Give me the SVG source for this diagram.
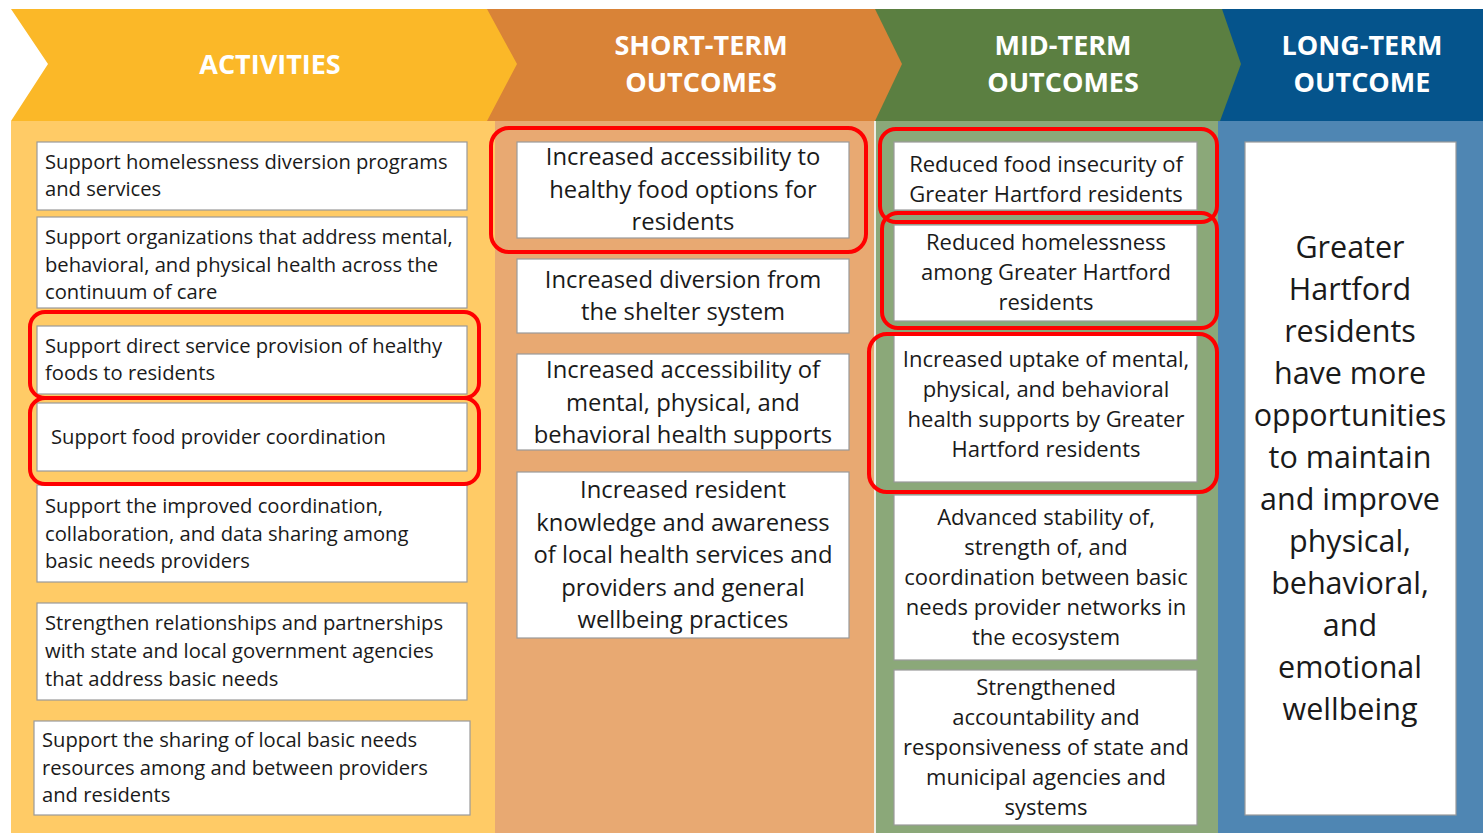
<svg xmlns="http://www.w3.org/2000/svg" width="1483" height="833" viewBox="0 0 1483 833">
<style>
.hd{font-family:"Open Sans","Liberation Sans",sans-serif;font-weight:bold;fill:#fff;font-size:27px;text-anchor:middle}
.box{fill:#fff;stroke:#9a9a9a;stroke-width:1.2}
.hl{fill:none;stroke:#f00;stroke-width:4}
.ta{font-family:"Open Sans","Liberation Sans",sans-serif;font-size:20.2px;fill:#1a1a1a}
.ts{font-family:"Open Sans","Liberation Sans",sans-serif;font-size:23.8px;fill:#1a1a1a;text-anchor:middle}
.tm{font-family:"Open Sans","Liberation Sans",sans-serif;font-size:22px;fill:#1a1a1a;text-anchor:middle}
.tl{font-family:"Open Sans","Liberation Sans",sans-serif;font-size:30.5px;fill:#1a1a1a;text-anchor:middle}
</style>
<rect width="1483" height="833" fill="#fff"/>
<g id="bodies">
<rect x="11" y="121" width="484" height="712" fill="#FFCB66"/>
<rect x="495" y="121" width="379" height="712" fill="#E8A972"/>
<rect x="874" y="121" width="2" height="712" fill="#EDEDE5"/>
<rect x="876" y="121" width="342" height="712" fill="#8BA879"/>
<rect x="1218" y="121" width="265" height="712" fill="#4F86B3"/>
</g>
<g id="headers">
<rect x="1200" y="9" width="283" height="112" fill="#05548C"/>
<polygon points="860,9 1222,9 1241,64 1220,121 860,121" fill="#5B7F41"/>
<polygon points="470,9 875,9 902,64 875,121 470,121" fill="#D98337"/>
<polygon points="11,9 487,9 517,64 487,121 11,121 48,64" fill="#FBB828"/>
<text class="hd" x="270" y="74">ACTIVITIES</text>
<text class="hd" x="701" y="55">SHORT-TERM</text>
<text class="hd" x="701" y="92">OUTCOMES</text>
<text class="hd" x="1063" y="55">MID-TERM</text>
<text class="hd" x="1063" y="92">OUTCOMES</text>
<text class="hd" x="1362" y="55">LONG-TERM</text>
<text class="hd" x="1362" y="92">OUTCOME</text>
</g>
<g id="a1"><rect class="box" x="37" y="142" width="430" height="68"/><text class="ta" x="45" y="169">Support homelessness diversion programs</text><text class="ta" x="45" y="196">and services</text></g>
<g id="a2"><rect class="box" x="37" y="217" width="430" height="91"/><text class="ta" x="45" y="244">Support organizations that address mental,</text><text class="ta" x="45" y="272">behavioral, and physical health across the</text><text class="ta" x="45" y="299">continuum of care</text></g>
<g id="a3"><rect class="box" x="37" y="326" width="430" height="68"/><text class="ta" x="45" y="353">Support direct service provision of healthy</text><text class="ta" x="45" y="380">foods to residents</text></g>
<g id="a4"><rect class="box" x="37" y="403" width="430" height="68"/><text class="ta" x="51" y="444">Support food provider coordination</text></g>
<g id="a5"><rect class="box" x="37" y="485" width="430" height="97"/><text class="ta" x="45" y="513">Support the improved coordination,</text><text class="ta" x="45" y="541">collaboration, and data sharing among</text><text class="ta" x="45" y="568">basic needs providers</text></g>
<g id="a6"><rect class="box" x="37" y="603" width="430" height="97"/><text class="ta" x="45" y="630">Strengthen relationships and partnerships</text><text class="ta" x="45" y="658">with state and local government agencies</text><text class="ta" x="45" y="686">that address basic needs</text></g>
<g id="a7"><rect class="box" x="34" y="721" width="436" height="94"/><text class="ta" x="42" y="747">Support the sharing of local basic needs</text><text class="ta" x="42" y="775">resources among and between providers</text><text class="ta" x="42" y="802">and residents</text></g>
<g id="s1"><rect class="box" x="517" y="142" width="332" height="96"/><text class="ts" x="683" y="165">Increased accessibility to</text><text class="ts" x="683" y="198">healthy food options for</text><text class="ts" x="683" y="230">residents</text></g>
<g id="s2"><rect class="box" x="517" y="259" width="332" height="74"/><text class="ts" x="683" y="288">Increased diversion from</text><text class="ts" x="683" y="320">the shelter system</text></g>
<g id="s3"><rect class="box" x="517" y="354" width="332" height="96"/><text class="ts" x="683" y="378">Increased accessibility of</text><text class="ts" x="683" y="411">mental, physical, and</text><text class="ts" x="683" y="443">behavioral health supports</text></g>
<g id="s4"><rect class="box" x="517" y="472" width="332" height="166"/><text class="ts" x="683" y="498">Increased resident</text><text class="ts" x="683" y="531">knowledge and awareness</text><text class="ts" x="683" y="563">of local health services and</text><text class="ts" x="683" y="596">providers and general</text><text class="ts" x="683" y="628">wellbeing practices</text></g>
<g id="m1"><rect class="box" x="894" y="142" width="303" height="68"/><text class="tm" x="1046" y="172">Reduced food insecurity of</text><text class="tm" x="1046" y="202">Greater Hartford residents</text></g>
<g id="m2"><rect class="box" x="894" y="225" width="303" height="96"/><text class="tm" x="1046" y="250">Reduced homelessness</text><text class="tm" x="1046" y="280">among Greater Hartford</text><text class="tm" x="1046" y="310">residents</text></g>
<g id="m3"><rect class="box" x="894" y="335" width="303" height="147"/><text class="tm" x="1046" y="367">Increased uptake of mental,</text><text class="tm" x="1046" y="397">physical, and behavioral</text><text class="tm" x="1046" y="427">health supports by Greater</text><text class="tm" x="1046" y="457">Hartford residents</text></g>
<g id="m4"><rect class="box" x="894" y="495" width="303" height="165"/><text class="tm" x="1046" y="525">Advanced stability of,</text><text class="tm" x="1046" y="555">strength of, and</text><text class="tm" x="1046" y="585">coordination between basic</text><text class="tm" x="1046" y="615">needs provider networks in</text><text class="tm" x="1046" y="645">the ecosystem</text></g>
<g id="m5"><rect class="box" x="894" y="670" width="303" height="155"/><text class="tm" x="1046" y="695">Strengthened</text><text class="tm" x="1046" y="725">accountability and</text><text class="tm" x="1046" y="755">responsiveness of state and</text><text class="tm" x="1046" y="785">municipal agencies and</text><text class="tm" x="1046" y="815">systems</text></g>
<g id="l1"><rect class="box" x="1245" y="142" width="211" height="673"/>
<text class="tl" x="1350" y="258">Greater</text><text class="tl" x="1350" y="300">Hartford</text><text class="tl" x="1350" y="342">residents</text><text class="tl" x="1350" y="384">have more</text><text class="tl" x="1350" y="426">opportunities</text><text class="tl" x="1350" y="468">to maintain</text><text class="tl" x="1350" y="510">and improve</text><text class="tl" x="1350" y="552">physical,</text><text class="tl" x="1350" y="594">behavioral,</text><text class="tl" x="1350" y="636">and</text><text class="tl" x="1350" y="678">emotional</text><text class="tl" x="1350" y="720">wellbeing</text></g>
<g id="highlights">
<rect class="hl" x="30" y="312" width="449" height="86" rx="15"/>
<rect class="hl" x="30" y="398" width="449" height="86" rx="15"/>
<rect class="hl" x="491" y="128" width="375" height="124" rx="18"/>
<rect class="hl" x="880" y="129" width="337" height="93" rx="16"/>
<rect class="hl" x="882" y="213" width="335" height="115" rx="16"/>
<rect class="hl" x="869" y="334" width="348" height="158" rx="18"/>
</g>
</svg>
